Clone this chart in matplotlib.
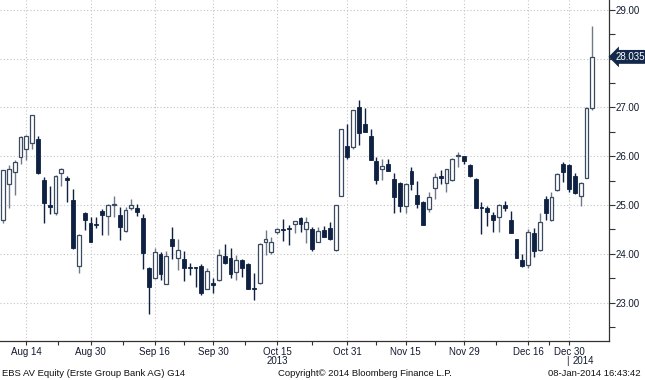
import numpy as np
import pandas as pd
import matplotlib
matplotlib.use("Agg")
import matplotlib.pyplot as plt
from matplotlib.patches import Rectangle
from matplotlib.ticker import FixedLocator, MultipleLocator, FuncFormatter
import matplotlib.transforms as mtransforms

plt.rcParams['font.family'] = ['Liberation Sans', 'DejaVu Sans']

# ---- data ----
holidays = ['2013-08-15', '2013-11-01', '2013-12-24', '2013-12-25', '2013-12-26',
            '2013-12-31', '2014-01-01', '2014-01-06']
dates = [d for d in pd.bdate_range('2013-08-08', '2014-01-08')
         if d.strftime('%Y-%m-%d') not in holidays]

opens = [24.69, 25.44, 25.68, 25.99, 26.14, 26.27, 26.35, 25.52, 25.00, 24.84,
         25.65, 25.55, 25.10, 23.75, 24.84, 24.64, 24.61, 24.88, 24.78, 25.00,
         24.79, 24.46, 24.93, 24.94, 24.74, 23.70, 23.50, 23.99, 23.39, 24.31,
         23.92, 23.89, 23.72, 23.71, 23.75, 23.28, 23.41, 23.46, 23.95, 23.92,
         23.63, 23.88, 23.80, 23.30, 23.41, 24.25, 24.04, 24.44, 24.50, 24.52,
         24.62, 24.74, 24.51, 24.50, 24.25, 24.49, 24.53, 24.07, 25.19, 26.21,
         26.19, 27.01, 26.67, 26.41, 25.91, 25.73, 25.85, 25.54, 25.46, 24.98,
         25.70, 25.20, 25.06, 24.92, 25.34, 25.59, 25.46, 25.52, 26.00, 26.00,
         25.82, 25.54, 24.95, 24.94, 24.79, 24.75, 25.00, 24.69, 24.30, 23.88,
         23.78, 24.42, 24.07, 25.12, 24.69, 25.30, 25.84, 25.82, 25.59, 25.19,
         25.56, 26.98]
highs = [25.72, 25.82, 25.92, 26.42, 26.43, 26.85, 26.41, 25.57, 25.39, 25.62,
         25.75, 25.59, 25.32, 24.40, 24.86, 24.75, 24.76, 24.91, 25.03, 25.18,
         24.95, 24.95, 25.12, 25.02, 24.81, 23.72, 24.11, 24.04, 24.06, 24.55,
         24.30, 24.05, 23.82, 23.72, 23.80, 23.70, 23.50, 24.09, 24.21, 24.11,
         23.97, 23.89, 23.81, 23.61, 24.22, 24.49, 24.34, 24.52, 24.71, 24.59,
         24.68, 24.76, 24.76, 24.55, 24.55, 24.57, 24.66, 25.01, 26.56, 26.67,
         26.95, 27.16, 26.98, 26.55, 25.99, 25.95, 25.95, 25.65, 25.47, 25.46,
         25.77, 25.49, 25.08, 25.27, 25.65, 25.71, 25.74, 25.96, 26.09, 26.01,
         25.85, 25.55, 25.07, 24.98, 24.86, 25.02, 25.09, 24.88, 24.31, 24.00,
         24.50, 24.52, 24.84, 25.19, 25.27, 25.65, 25.88, 25.85, 25.66, 25.48,
         27.00, 28.66]
lows = [24.64, 24.93, 25.20, 25.83, 25.92, 26.14, 25.64, 24.64, 24.81, 24.79,
        25.39, 25.07, 24.10, 23.61, 24.49, 24.25, 24.52, 24.38, 24.38, 24.76,
        24.28, 24.45, 24.89, 24.77, 23.69, 22.77, 23.48, 23.46, 23.38, 23.90,
        23.67, 23.44, 23.56, 23.32, 23.15, 23.27, 23.19, 23.45, 23.80, 23.51,
        23.46, 23.53, 23.27, 23.06, 23.38, 23.97, 23.99, 24.40, 24.27, 24.18,
        24.42, 24.45, 24.23, 24.05, 24.24, 24.34, 24.28, 24.06, 25.18, 25.95,
        26.14, 26.23, 26.49, 25.92, 25.44, 25.52, 25.69, 24.83, 24.86, 24.83,
        25.30, 24.93, 24.58, 24.85, 25.12, 25.44, 25.27, 25.49, 25.77, 25.84,
        25.57, 24.93, 24.40, 24.57, 24.45, 24.45, 24.88, 24.42, 23.91, 23.72,
        23.70, 23.93, 24.06, 24.69, 24.68, 25.28, 25.47, 25.27, 25.23, 24.97,
        25.55, 26.94]
closes = [25.71, 25.73, 25.89, 26.40, 26.41, 26.84, 25.66, 25.05, 24.96, 25.60,
          25.73, 25.51, 24.11, 24.38, 24.69, 24.25, 24.60, 24.80, 25.00, 25.03,
          24.55, 24.89, 25.01, 24.85, 24.01, 23.32, 24.03, 23.58, 23.95, 24.16,
          24.07, 23.70, 23.70, 23.70, 23.19, 23.65, 23.37, 23.97, 23.81, 23.58,
          23.88, 23.70, 23.28, 23.28, 24.21, 24.30, 24.24, 24.50, 24.49, 24.51,
          24.67, 24.62, 24.66, 24.10, 24.47, 24.35, 24.30, 25.00, 26.55, 25.99,
          26.94, 26.47, 26.50, 25.93, 25.51, 25.80, 25.70, 25.17, 24.97, 25.44,
          25.44, 25.02, 24.59, 25.17, 25.58, 25.55, 25.73, 25.95, 26.03, 25.90,
          25.59, 24.94, 24.93, 24.86, 24.70, 25.00, 24.93, 24.43, 23.92, 23.74,
          24.45, 24.06, 24.66, 24.84, 25.17, 25.63, 25.67, 25.32, 25.24, 25.45,
          26.99, 28.035]

tick_dates = ['2013-08-14', '2013-08-30', '2013-09-16', '2013-09-30', '2013-10-15',
              '2013-10-31', '2013-11-15', '2013-11-29', '2013-12-16', '2013-12-30']
tick_labels = ['Aug 14', 'Aug 30', 'Sep 16', 'Sep 30', 'Oct 15',
               'Oct 31', 'Nov 15', 'Nov 29', 'Dec 16', 'Dec 30']
last_price = 28.035
title_left = 'EBS AV Equity (Erste Group Bank AG) G14'
title_mid = 'Copyright\u00a9 2014 Bloomberg Finance L.P.'
title_right = '08-Jan-2014 16:43:42'

# ---- figure ----
W, H = 645, 380
fig = plt.figure(figsize=(W / 100, H / 100), dpi=100)
ax = fig.add_axes([0, (H - 341) / H, 609 / W, 341 / H])

navy = '#0f2142'
hollow_edge = '#3a4a60'
hollow_wick = '#6f7a88'
txt = '#111a2e'
width = 0.66

date_str = [d.strftime('%Y-%m-%d') for d in dates]
x = np.arange(len(opens))
for i in x:
    o, h, l, c = opens[i], highs[i], lows[i], closes[i]
    up = c >= o
    lo, hi = min(o, c), max(o, c)
    if up:
        ax.vlines(i, l, h, color=hollow_wick, lw=1.0, zorder=2)
        ax.add_patch(Rectangle((i - width / 2, lo), width, max(hi - lo, 0.02),
                               facecolor='white', edgecolor=hollow_edge, lw=0.9, zorder=3))
    else:
        ax.vlines(i, l, h, color=navy, lw=1.0, zorder=2)
        ax.add_patch(Rectangle((i - width / 2, lo), width, max(hi - lo, 0.02),
                               facecolor=navy, edgecolor=navy, lw=0.6, zorder=3))

# axes ranges
ppx = 5.835
ax.set_xlim(-3 / ppx, 101 + (609 - 592.3) / ppx)
ax.set_ylim(29 - (341 - 9.8) / 48.8, 29 + 9.8 / 48.8)

# ticks
tick_pos = [date_str.index(t) for t in tick_dates]
ax.xaxis.set_major_locator(FixedLocator(tick_pos))
ax.set_xticklabels(tick_labels)
mids = [(a + b) / 2 for a, b in zip(tick_pos[:-1], tick_pos[1:])]
ax.xaxis.set_minor_locator(FixedLocator(mids))
ax.tick_params(axis='x', which='both', direction='out', length=3, width=0.8,
               color='#333333', labelsize=7, labelcolor=txt, pad=1.5)

ax.yaxis.tick_right()
ax.yaxis.set_major_locator(MultipleLocator(1))
ax.yaxis.set_minor_locator(MultipleLocator(0.5))
# the 28.00 label sits under the last-price tag in the reference
ax.yaxis.set_major_formatter(FuncFormatter(
    lambda v, p: '' if abs(v - round(last_price)) < 1e-6 else f'{v:.2f}'))
ax.tick_params(axis='y', which='both', direction='out', length=4, width=0.8,
               color='#333333', labelsize=7, labelcolor=txt, pad=1.0)

# grid
ax.grid(True, which='major', color='#c4c4c4', lw=0.8, linestyle=(0, (1, 2)))
ax.set_axisbelow(True)

for s in ['top', 'left']:
    ax.spines[s].set_visible(False)
for s in ['right', 'bottom']:
    ax.spines[s].set_color('#333333')
    ax.spines[s].set_linewidth(0.9)

# last price tag
trans = mtransforms.blended_transform_factory(ax.transAxes, ax.transData)
ax.text(1.0 + 7 / 609, last_price, f'{last_price:.3f}', transform=trans,
        ha='left', va='center', color='white', fontsize=7, zorder=10, clip_on=False,
        bbox=dict(boxstyle='larrow,pad=0.2', fc='#13294b', ec='none'))

# year labels
xd = mtransforms.blended_transform_factory(ax.transData, fig.transFigure)
yr = (H - 361) / H
ax.text(tick_pos[4], yr, '2013', transform=xd, ha='center', va='center',
        fontsize=7, color=txt, clip_on=False)
ax.text(96.7, yr, '|', transform=xd, ha='center', va='center',
        fontsize=7, color=txt, clip_on=False)
ax.text(97.6, yr, '2014', transform=xd, ha='left', va='center',
        fontsize=7, color=txt, clip_on=False)

# footer
fy = (H - 374) / H
fig.text(2 / W, fy, title_left, ha='left', va='center', fontsize=6.8, color='#111111')
fig.text(365 / W, fy, title_mid, ha='center', va='center', fontsize=6.8, color='#111111')
fig.text(641 / W, fy, title_right, ha='right', va='center', fontsize=6.8, color='#111111')

fig.savefig('out.png', dpi=100)
